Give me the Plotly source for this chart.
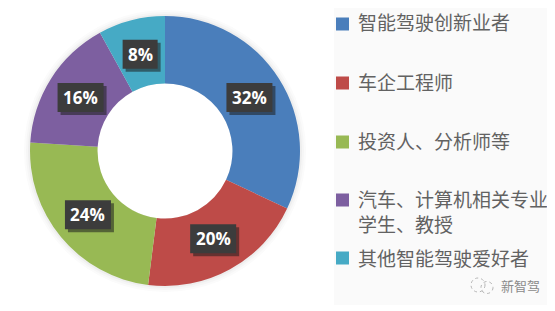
import math
import plotly.graph_objects as go

categories = ["智能驾驶创新业者", "车企工程师", "投资人、分析师等", "汽车、计算机相关专业<br>学生、教授", "其他智能驾驶爱好者"]
values = [32, 20, 24, 16, 8]
colors = ["#4a7ebb", "#be4b48", "#98b954", "#7d5fa0", "#46aac5"]
legend_y = [22, 81, 140, 211, 257]
swatch_y = [24, 83, 142, 200, 258]

W, H = 555, 311
PAGE_OFFSET = 8  # default page margin round the plot
CX, CY, R = 165, 151, 135
LABEL_R = 100

def px(x):
    return (x - PAGE_OFFSET) / W

def py(y):
    return 1 - (y - PAGE_OFFSET) / H

def rect(x0, y0, x1, y1, fill, layer="above"):
    return dict(type="rect", xref="paper", yref="paper", layer=layer, x0=px(x0), x1=px(x1), y0=py(y1), y1=py(y0),
                fillcolor=fill, line=dict(width=0))

def circle(cx, cy, r, fill, layer="below", line=None):
    return dict(type="circle", xref="paper", yref="paper", layer=layer, x0=px(cx - r), x1=px(cx + r),
                y0=py(cy + r), y1=py(cy - r), fillcolor=fill, line=line or dict(width=0))

fig = go.Figure(go.Pie(
    labels=categories, values=values, sort=False, direction="clockwise", rotation=0,
    hole=0.5, marker=dict(colors=colors, line=dict(width=0)), textinfo="none",
    hoverinfo="label+percent", showlegend=False,
    domain=dict(x=[px(CX - R), px(CX + R)], y=[py(CY + R), py(CY - R)]),
))

shapes = [rect(334, 3, 552, 305, "#fafafa", "below")]
# soft glow around the ring
for grow, col in [(6, "#fbfbfb"), (4, "#f6f6f6"), (2, "#eeeeee")]:
    shapes.append(circle(CX, CY, R + grow, col))
shapes.append(circle(CX, CY, R / 2, "#ffffff"))

annotations = []
total = sum(values)
cum = 0
for cat, val, col, ly, sy in zip(categories, values, colors, legend_y, swatch_y):
    mid = (cum + val / 2) / total * 2 * math.pi
    cum += val
    lx_, ly_ = CX + LABEL_R * math.sin(mid), CY - LABEL_R * math.cos(mid)
    half_w = 23 if val >= 10 else 17.5
    half_h = 14.5
    shapes.append(rect(lx_ - half_w + 3, ly_ - half_h + 3, lx_ + half_w + 3, ly_ + half_h + 3, "rgba(30,30,30,0.55)"))
    shapes.append(rect(lx_ - half_w, ly_ - half_h, lx_ + half_w, ly_ + half_h, "#3c3c3c"))
    annotations.append(dict(xref="paper", yref="paper", x=px(lx_), y=py(ly_), xanchor="center", yanchor="middle",
                            showarrow=False, text=f"<b>{val}%</b>",
                            font=dict(family="Open Sans", size=17, color="#ffffff")))
    annotations.append(dict(xref="paper", yref="paper", x=px(356), y=py(ly), xanchor="left", yanchor="middle", align="left",
                            showarrow=False, text=cat,
                            font=dict(family="Noto Sans CJK SC", size=19, color="#626262")))
    shapes.append(rect(336, sy - 6.5, 349, sy + 6.5, col))

annotations.append(dict(xref="paper", yref="paper", x=px(499), y=py(285), xanchor="left", yanchor="middle",
                        showarrow=False, text="新智驾",
                        font=dict(family="Noto Sans CJK SC", size=13, color="#8a8a8a")))
for cx, cy, r in [(478, 285, 7), (487, 287.5, 6)]:
    shapes.append(circle(cx, cy, r, "rgba(0,0,0,0)", "above", dict(color="#b5b5b5", width=1, dash="dot")))

fig.update_layout(width=W, height=H, margin=dict(l=0, r=0, t=0, b=0), paper_bgcolor="#ffffff",
                  shapes=shapes, annotations=annotations, showlegend=False)
fig.write_html("out.html")
